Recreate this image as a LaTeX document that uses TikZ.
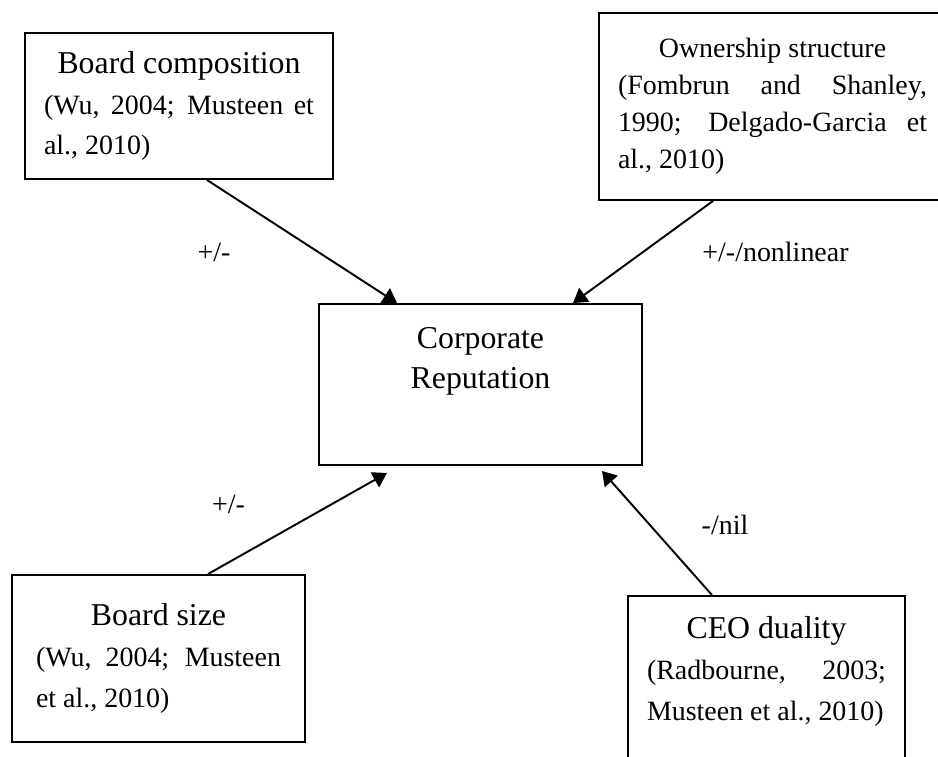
\documentclass[tikz,border=0pt]{standalone}
\usepackage{fontspec}
\setmainfont{Liberation Serif}
\usepackage{tikz}
\usetikzlibrary{positioning,arrows.meta}
\newcommand\boxtitle{\fontsize{18.1}{23.2}\selectfont}
\newcommand\boxref{\fontsize{15.9}{23.2}\selectfont}
\tolerance=10000

\begin{document}
\begin{tikzpicture}[
  srcbox/.style={rectangle, draw=black, line width=1.1pt, align=justify, inner ysep=0pt, font=\boxref},
  mainbox/.style={rectangle, draw=black, line width=1.1pt, align=center, minimum width=6.46cm, minimum height=3.22cm, font=\boxtitle},
  lbl/.style={inner sep=0pt, font=\fontsize{15.9}{19}\selectfont},
  arrow/.style={-{Triangle[length=0.28cm,width=0.34cm]}, line width=1.1pt}
]
  \path[use as bounding box, fill=white] (0,0) rectangle (18.76,-15.12);
  \clip (0,0) rectangle (18.76,-15.12);

  % Nodes
  \node[mainbox] (corp) at (9.61,-7.69) {Corporate\\Reputation\\ \strut};
  \node[srcbox, text width=5.4cm, inner xsep=0.38cm, minimum height=2.92cm] (comp) at (3.58,-2.12)
    {{\centering\boxtitle Board composition\par}(Wu, 2004; Musteen et\linebreak al., 2010)};
  \node[srcbox, text width=6.18cm, inner xsep=0.38cm, minimum height=3.74cm, font=\fontsize{15.9}{21}\selectfont] (own) at (15.45,-2.13)
    {{\centering Ownership structure\par}(Fombrun and Shanley,\linebreak 1990; Delgado-Garcia et\linebreak al., 2010)};
  \node[srcbox, text width=4.9cm, inner xsep=0.48cm, minimum height=3.34cm] (size) at (3.17,-13.17)
    {{\centering\boxtitle Board size\par}(Wu, 2004; Musteen\linebreak et al., 2010)\par\vspace{0.26cm}};
  \node[srcbox, text width=4.78cm, inner xsep=0.38cm, minimum height=3.96cm] (ceo) at (15.33,-13.9)
    {{\centering\boxtitle CEO duality\par}(Radbourne, 2003;\linebreak Musteen et al., 2010)\par\strut};

  % Labels
  \node[lbl] (pmA) at (4.28,-5.04) {+/-};
  \node[lbl] (pmB) at (15.51,-5.04) {+/-/nonlinear};
  \node[lbl] (pmC) at (4.57,-10.08) {+/-};
  \node[lbl] (nil) at (14.5,-10.5) {-/nil};

  % Connections
  \draw[arrow] ([xshift=0.56cm]comp.south) -- ([xshift=-1.67cm]corp.north);
  \draw[arrow] ([xshift=-1.19cm]own.south) -- ([xshift=1.85cm]corp.north);
  \draw[arrow] ([xshift=0.99cm]size.north) -- ([xshift=-1.87cm,yshift=-0.14cm]corp.south);
  \draw[arrow] ([xshift=-1.09cm]ceo.north) -- ([xshift=2.43cm,yshift=-0.1cm]corp.south);

\end{tikzpicture}
\end{document}
